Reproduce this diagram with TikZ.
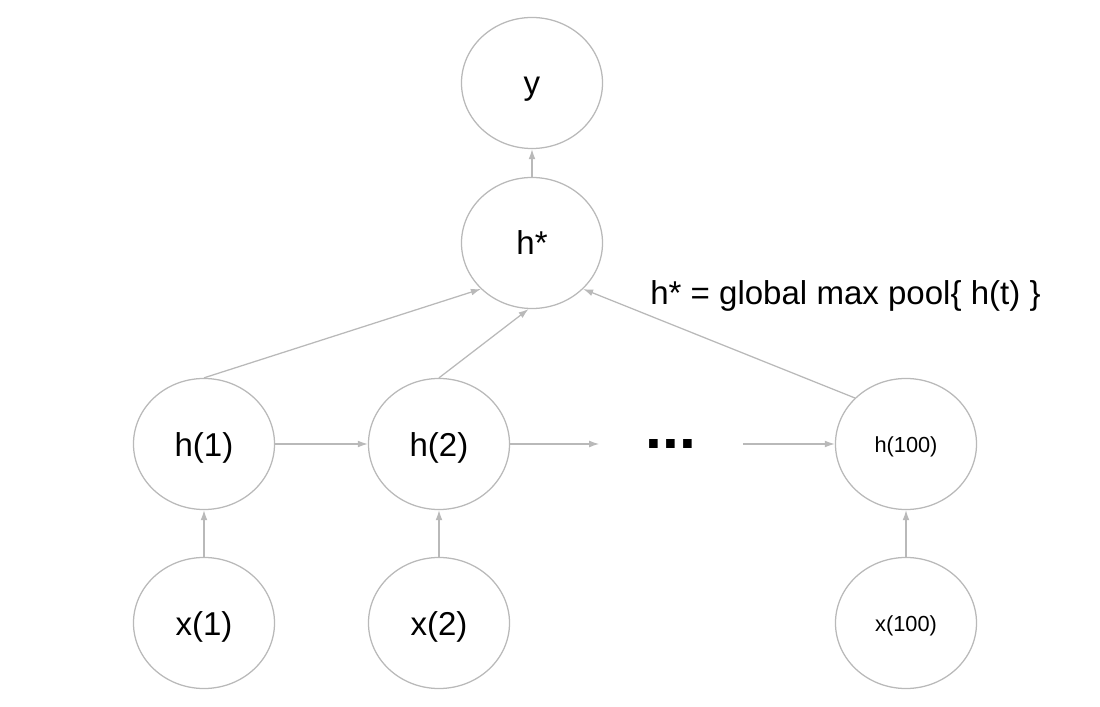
\documentclass[tikz,border=0pt]{standalone}
\usepackage{fontspec}
\setmainfont{Liberation Sans}
\usepackage{tikz}
\usetikzlibrary{shapes.geometric,arrows.meta,positioning}
\definecolor{lgray}{RGB}{185,185,185}

\begin{document}
\begin{tikzpicture}[x=0.025cm, y=-0.025cm,
	cell/.style={draw=lgray, line width=0.9pt, ellipse, minimum width=3.525cm, minimum height=3.275cm, inner sep=0pt, text height=0.6cm, text depth=0cm, font=\fontsize{23.5}{28}\selectfont},
	smallcell/.style={cell, text height=0.42cm, font=\fontsize{15.5}{19}\selectfont},
	conn/.style={-{Latex[length=2.5mm,width=1.7mm]}, lgray, line width=0.9pt}]
			\useasboundingbox (0,0) rectangle (1100,707);
			\node[cell] (y) at (532,83) {y};
			\node[cell] (hstar) at (532,243) {h*};
			\node[cell] (h1) at (204,444) {h(1)};
			\node[cell] (h2) at (439,444) {h(2)};
			\node[smallcell] (h100) at (906,444) {h(100)};
			\node[cell] (x1) at (204,623) {x(1)};
			\node[cell] (x2) at (439,623) {x(2)};
			\node[smallcell] (x100) at (906,623) {x(100)};
			\node[minimum width=3.575cm, inner sep=0pt, font=\fontsize{43}{43}\selectfont\bfseries] (dots) at (671,444) {...};
			
			\node[anchor=base west, inner sep=0pt, font=\fontsize{23.5}{28}\selectfont] (pool) at (650,305) {h* = global max pool\{ h(t) \}};
			
			\draw[conn] (hstar) -- (y);
			\draw[conn] (h1.north) -- (hstar.222);
			\draw[conn] (h2.north) -- (hstar.-93);
			\draw[conn] (h100.138) -- (hstar.-42);
			
			\draw[conn] (h1) -- (h2);
			\draw[conn] (h2) -- (dots);
			\draw[conn] (dots) -- (h100);
			
			\draw[conn] (x1) -- (h1);
			\draw[conn] (x2) -- (h2);
			\draw[conn] (x100) -- (h100);
		\end{tikzpicture}
\end{document}
